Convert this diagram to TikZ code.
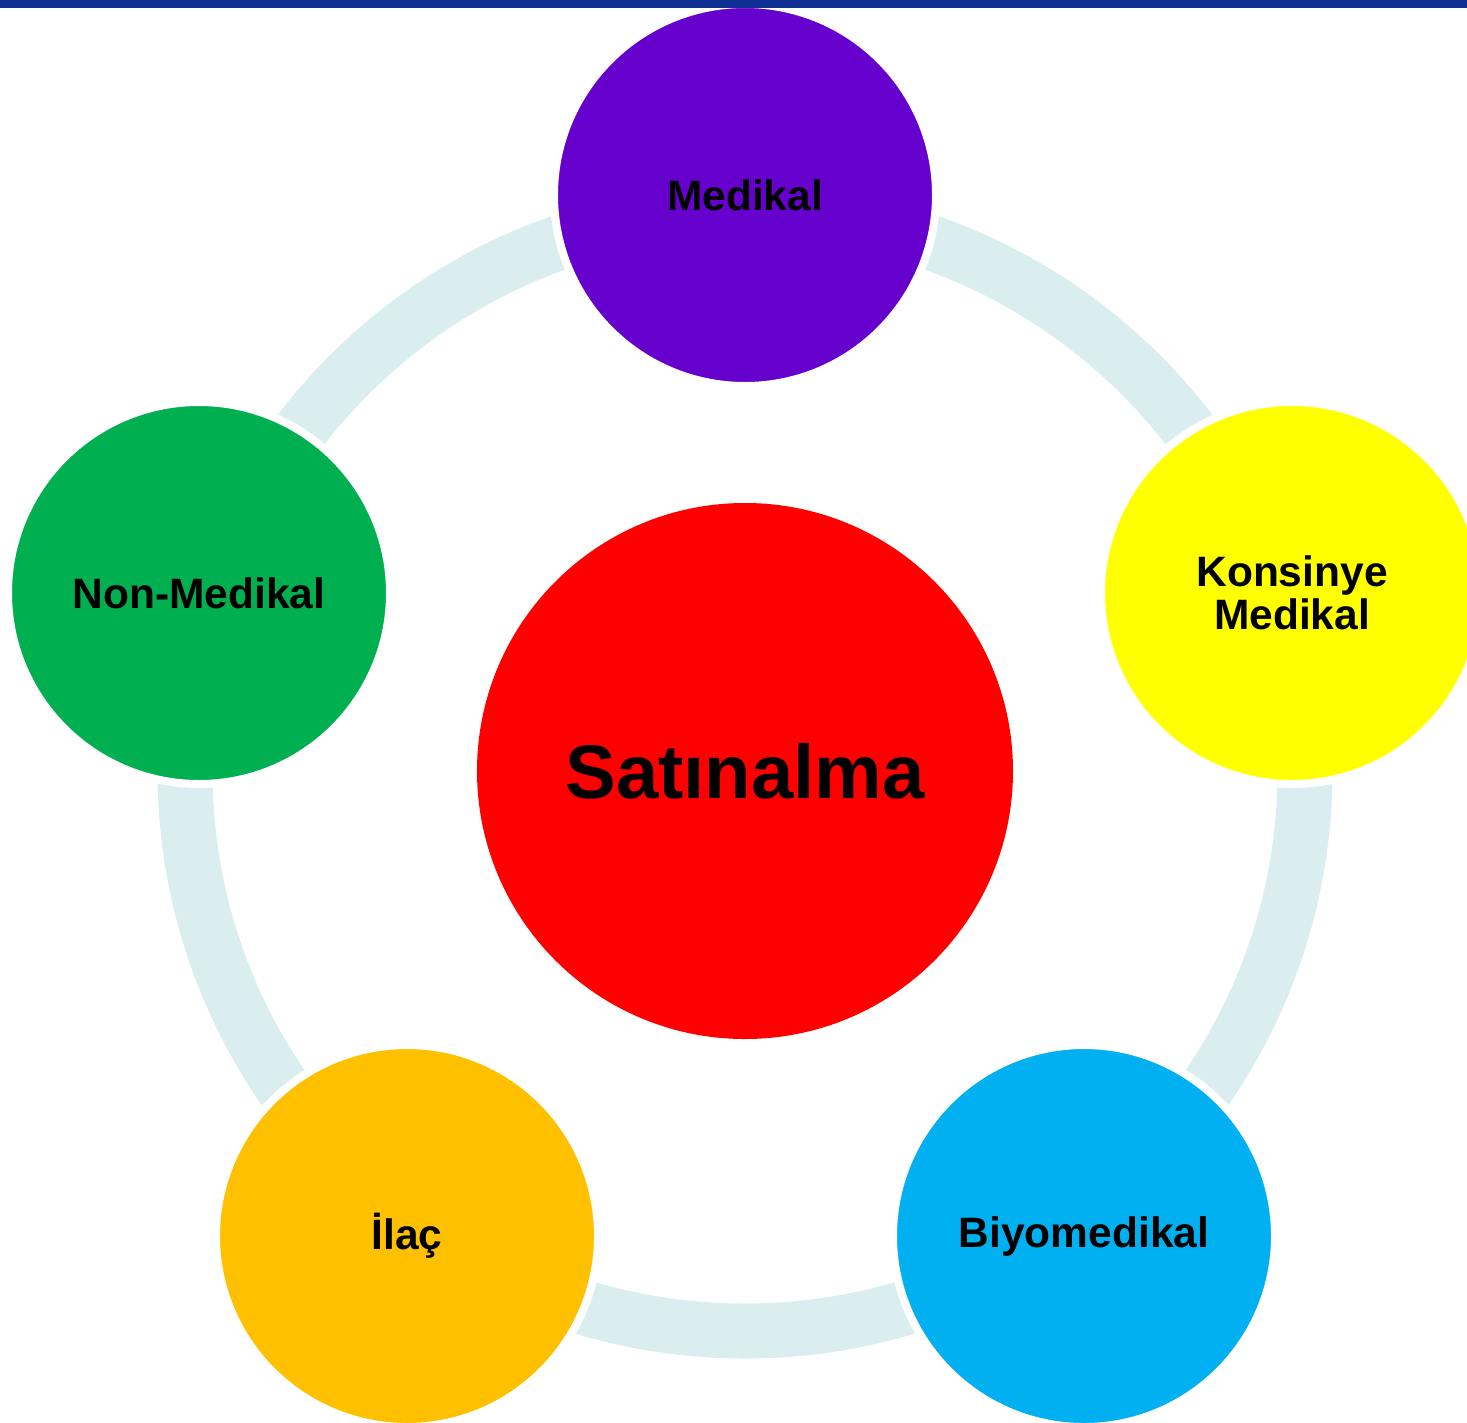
\documentclass[tikz,border=0pt]{standalone}
\usepackage{fontspec}
\setmainfont{Liberation Sans}
\definecolor{ringc}{HTML}{DAEEF0}
\definecolor{barc}{HTML}{0F3092}
\definecolor{cmed}{HTML}{6600CC}
\definecolor{ckon}{HTML}{FFFF00}
\definecolor{cnon}{HTML}{00B050}
\definecolor{cila}{HTML}{FFC000}
\definecolor{cbiy}{HTML}{00B0F0}
\definecolor{csat}{HTML}{FF0000}
\begin{document}
\begin{tikzpicture}[x=1pt,y=-1pt,
  outer/.style={circle, inner sep=0pt, minimum size=382pt, draw=white, line width=8pt,
     font=\fontsize{42.5}{43}\selectfont\bfseries, align=center, text=black},
  center/.style={circle, inner sep=0pt, minimum size=536pt, fill=csat,
     font=\fontsize{76}{80}\selectfont\bfseries, text=black}]
\useasboundingbox (0,0) rectangle (1467,1422);
\clip (0,0) rectangle (1467,1422);
\coordinate (o) at (745,771);
\draw[ringc, line width=55pt] (o) circle (560);
\node[center] (sat) at (o) {Satınalma};
\node[outer, fill=cmed] (med) at (745,195) {Medikal};
\node[outer, fill=ckon] (kon) at (1292,593) {Konsinye\\Medikal};
\node[outer, fill=cnon] (non) at (199,593) {Non-Medikal};
\node[outer, fill=cila] (ila) at (407,1236) {İlaç};
\node[outer, fill=cbiy] (biy) at (1084,1236) {Biyomedikal};
\fill[barc] (0,0) rectangle (1467,8);
\end{tikzpicture}
\end{document}
